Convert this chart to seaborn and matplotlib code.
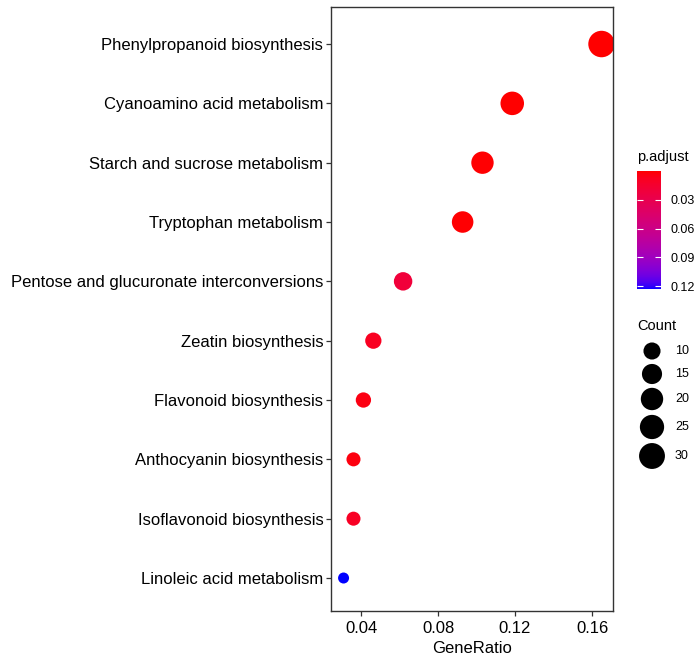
import numpy as np
import pandas as pd
import matplotlib
matplotlib.use("Agg")
import matplotlib.pyplot as plt
from matplotlib.colors import ListedColormap, Normalize
import matplotlib.cm as cm
import seaborn as sns

# KEGG enrichment results
pathways = [
    "Phenylpropanoid biosynthesis",
    "Cyanoamino acid metabolism",
    "Starch and sucrose metabolism",
    "Tryptophan metabolism",
    "Pentose and glucuronate interconversions",
    "Zeatin biosynthesis",
    "Flavonoid biosynthesis",
    "Anthocyanin biosynthesis",
    "Isoflavonoid biosynthesis",
    "Linoleic acid metabolism",
]
counts = [32, 23, 20, 18, 12, 9, 8, 7, 7, 6]
background_total = 194
p_adjust = [0.0001, 0.0003, 0.0008, 0.0010, 0.0200, 0.0090, 0.0040, 0.0030, 0.0100, 0.1230]

x_ticks = [0.04, 0.08, 0.12, 0.16]
cbar_ticks = [0.03, 0.06, 0.09, 0.12]
size_breaks = [10, 15, 20, 25, 30]

df = pd.DataFrame({
    "Description": pathways,
    "Count": counts,
    "GeneRatio": [c / background_total for c in counts],
    "p.adjust": p_adjust,
})


# red -> blue gradient interpolated in CIELAB
def srgb_to_lab(rgb):
    rgb = np.asarray(rgb, float)
    lin = np.where(rgb <= 0.04045, rgb / 12.92, ((rgb + 0.055) / 1.055) ** 2.4)
    M = np.array([[0.4124, 0.3576, 0.1805],
                  [0.2126, 0.7152, 0.0722],
                  [0.0193, 0.1192, 0.9505]])
    xyz = M @ lin / np.array([0.95047, 1.0, 1.08883])
    f = np.where(xyz > 0.008856, np.cbrt(xyz), 7.787 * xyz + 16 / 116)
    return np.array([116 * f[1] - 16, 500 * (f[0] - f[1]), 200 * (f[1] - f[2])])


def lab_to_srgb(lab):
    L, a, b = lab
    fy = (L + 16) / 116
    fx = fy + a / 500
    fz = fy - b / 200
    f = np.array([fx, fy, fz])
    xyz = np.where(f ** 3 > 0.008856, f ** 3, (f - 16 / 116) / 7.787)
    xyz = xyz * np.array([0.95047, 1.0, 1.08883])
    Minv = np.array([[3.2406, -1.5372, -0.4986],
                     [-0.9689, 1.8758, 0.0415],
                     [0.0557, -0.2040, 1.0570]])
    lin = Minv @ xyz
    lin = np.clip(lin, 0, 1)
    rgb = np.where(lin <= 0.0031308, 12.92 * lin, 1.055 * lin ** (1 / 2.4) - 0.055)
    return np.clip(rgb, 0, 1)


lab_lo = srgb_to_lab([1, 0, 0])
lab_hi = srgb_to_lab([0, 0, 1])
ramp = [lab_to_srgb(lab_lo + (lab_hi - lab_lo) * t) for t in np.linspace(0, 1, 256)]
cmap = ListedColormap(ramp)
norm = Normalize(vmin=min(p_adjust), vmax=max(p_adjust))

# point diameters (pixels) on an area scale
DPI = 100
d_min, d_max = 11.0, 26.5
c_min, c_max = min(counts), max(counts)


def diam_px(c):
    return d_min + (d_max - d_min) * np.sqrt((c - c_min) / (c_max - c_min))


def area_pt2(c):
    return (diam_px(c) * 72 / DPI) ** 2


size_map = {c: area_pt2(c) for c in sorted(set(counts))}

W, H = 694, 657
fig = plt.figure(figsize=(W / DPI, H / DPI), dpi=DPI)
plt.rcParams["font.family"] = ["Liberation Sans", "DejaVu Sans"]

ax = fig.add_axes([331 / W, 1 - 611 / H, (613 - 331) / W, (611 - 7) / H])
sns.scatterplot(
    data=df, x="GeneRatio", y="Description",
    hue="p.adjust", palette=cmap, hue_norm=norm,
    size="Count", sizes=size_map,
    edgecolor="none", linewidth=0, legend=False, ax=ax,
)
ax.set_ylim(len(pathways) - 1 + 0.556, -0.624)
ax.set_xlim(0.0244, 0.1709)
ax.set_xticks(x_ticks)
ax.set_xticklabels([f"{t:.2f}" for t in x_ticks])
ax.set_xlabel("GeneRatio", fontsize=12, color="black", labelpad=3)
ax.set_ylabel("")
ax.tick_params(axis="both", labelsize=12, labelcolor="black", color="#333333",
               length=3.5, width=0.9)
ax.tick_params(axis="x", pad=4)
ax.tick_params(axis="y", pad=2)
for s in ax.spines.values():
    s.set_color("#333333")
    s.set_linewidth(1.0)
ax.grid(False)

# colourbar for p.adjust
fig.text(637 / W, 1 - 157 / H, "p.adjust", fontsize=10.5, va="center", ha="left")
cax = fig.add_axes([637 / W, 1 - 289 / H, 24 / W, 118 / H])
sm = cm.ScalarMappable(norm=norm, cmap=cmap)
cb = fig.colorbar(sm, cax=cax, ticks=cbar_ticks)
cb.outline.set_visible(False)
cax.invert_yaxis()
cax.set_yticklabels([f"{t:.2f}" for t in cbar_ticks])
cax.tick_params(axis="y", direction="in", color="white", length=4.5, width=0.8,
                left=True, right=True, labelsize=9, pad=7)

# size legend for Count
fig.text(637 / W, 1 - 326 / H, "Count", fontsize=10.5, va="center", ha="left")
lax = fig.add_axes([0, 0, 1, 1], facecolor="none")
lax.set_xlim(0, W)
lax.set_ylim(H, 0)
lax.axis("off")
key_y = [351, 374, 399, 427, 456]
lax.scatter([652] * len(size_breaks), key_y, s=[area_pt2(c) for c in size_breaks],
            color="black", edgecolor="none")
for yk, c in zip(key_y, size_breaks):
    lax.text(675, yk, str(c), fontsize=9, va="center", ha="left")

fig.savefig("out.png", dpi=DPI)
